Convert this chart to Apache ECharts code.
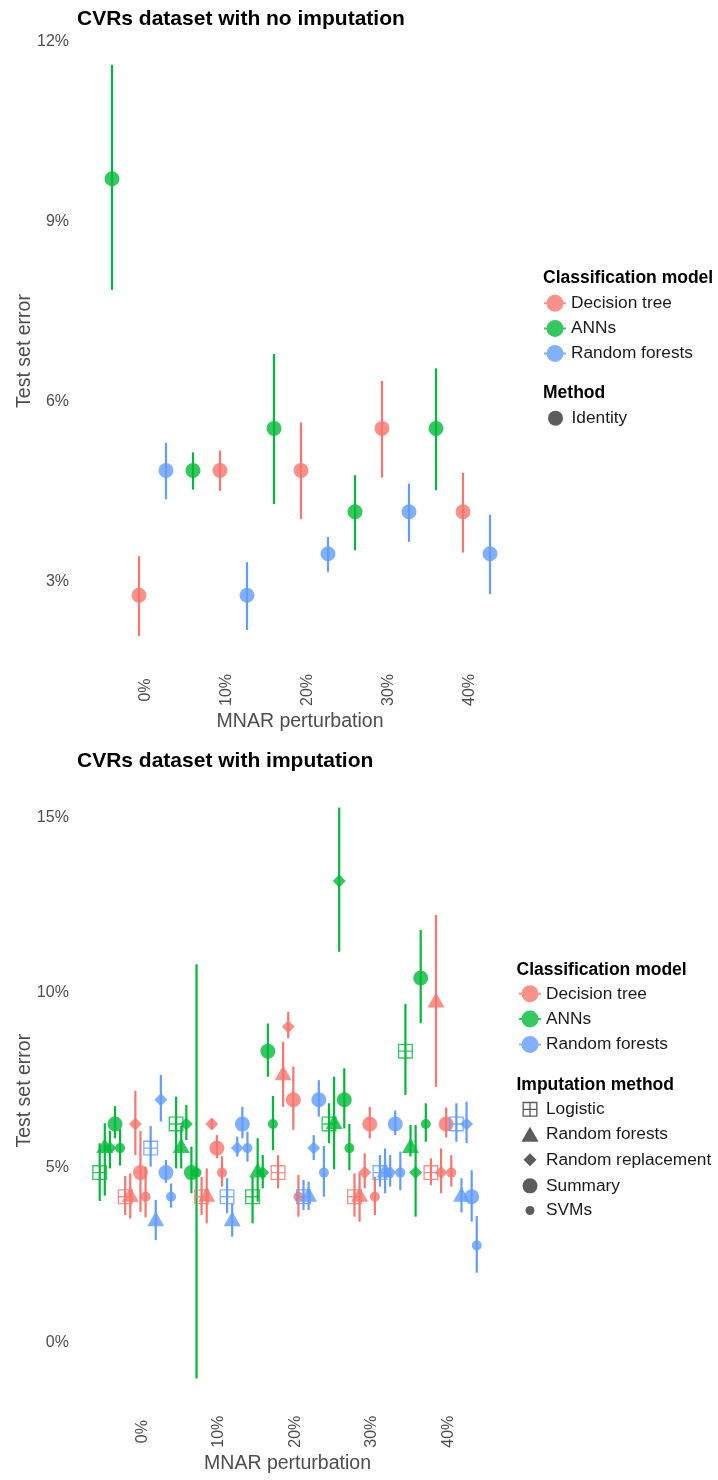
<!DOCTYPE html>
<html>
<head>
<meta charset="utf-8">
<script src="https://cdn.jsdelivr.net/npm/echarts@6/dist/echarts.min.js"></script>
<style>
  html, body { margin: 0; padding: 0; background: #ffffff; }
  #chart { width: 718px; height: 1480px; }
</style>
</head>
<body>
<div id="chart"></div>
<script>
// ---- data -------------------------------------------------------------
// MNAR perturbation levels (%) on the x axis
const perturbationLevels = [0, 10, 20, 30, 40];
// classification models in legend order, and the order they sit side by side
const modelNames = ['Decision tree', 'ANNs', 'Random forests'];
const dodgeOrder = ['ANNs', 'Decision tree', 'Random forests'];
// imputation methods, also the row order of the imputed tables below
const imputationMethods = ['Logistic', 'Random forests', 'Random replacement', 'Summary', 'SVMs'];
// tick labels of the two error axes (%)
const plainErrorTicks = [3, 6, 9, 12];
const imputedErrorTicks = [0, 5, 10, 15];

// Test set error (%) with no imputation: estimate and interval per perturbation level
const plainTreeMean = [2.78, 4.86, 4.86, 5.56, 4.17];
const plainTreeLow  = [2.10, 4.52, 4.05, 4.74, 3.49];
const plainTreeHigh = [3.43, 5.19, 5.66, 6.35, 4.82];
const plainAnnMean = [9.72, 4.86, 5.56, 4.17, 5.56];
const plainAnnLow  = [7.87, 4.54, 4.30, 3.53, 4.53];
const plainAnnHigh = [11.62, 5.16, 6.80, 4.78, 6.56];
const plainForestMean = [4.86, 2.78, 3.47, 4.17, 3.47];
const plainForestLow  = [4.38, 2.20, 3.17, 3.67, 2.80];
const plainForestHigh = [5.32, 3.33, 3.75, 4.64, 4.12];

// Test set error (%) with imputation: rows = imputation method, columns = perturbation level
const imputedTreeMean = [
  [4.17, 4.17, 4.86, 4.17, 4.86],
  [4.17, 4.17, 7.64, 4.17, 9.72],
  [6.25, 6.25, 9.03, 4.86, 4.86],
  [4.86, 5.56, 6.94, 6.25, 6.25],
  [4.17, 4.86, 4.17, 4.17, 4.86]
];
const imputedTreeLow = [
  [3.65, 3.65, 4.41, 3.60, 4.50],
  [3.55, 3.41, 6.74, 3.46, 7.31],
  [5.36, 6.10, 8.70, 4.41, 4.27],
  [3.74, 5.27, 6.08, 5.84, 5.87],
  [3.58, 4.46, 3.60, 3.65, 4.46]
];
const imputedTreeHigh = [
  [4.76, 4.74, 5.36, 4.84, 5.27],
  [4.84, 4.98, 8.60, 4.84, 12.22],
  [7.20, 6.40, 9.46, 5.41, 5.55],
  [6.05, 5.93, 7.89, 6.74, 6.72],
  [5.03, 5.33, 4.79, 4.74, 5.36]
];
const imputedAnnMean = [
  [4.86, 6.25, 4.17, 6.25, 8.33],
  [5.56, 5.56, 4.86, 6.25, 5.56],
  [5.56, 6.25, 4.86, 13.19, 4.86],
  [6.25, 4.86, 8.33, 6.94, 10.42],
  [5.56, 4.86, 6.25, 5.56, 6.25]
];
const imputedAnnLow = [
  [4.05, 4.98, 3.41, 5.70, 7.08],
  [4.20, 4.98, 4.03, 4.96, 5.32],
  [4.98, 5.79, 4.41, 11.17, 3.60],
  [5.84, 4.27, 7.60, 6.12, 9.13],
  [5.06, -1.02, 5.50, 4.93, 5.74]
];
const imputedAnnHigh = [
  [5.70, 7.03, 4.74, 6.84, 9.68],
  [6.27, 6.20, 5.84, 7.60, 6.22],
  [6.05, 6.79, 5.36, 15.29, 6.22],
  [6.76, 5.60, 9.12, 7.84, 11.79],
  [6.11, 10.81, 7.05, 6.25, 6.84]
];
const imputedForestMean = [
  [5.56, 4.17, 4.17, 4.86, 6.25],
  [3.47, 3.47, 4.17, 4.86, 4.17],
  [6.94, 5.56, 5.56, 4.86, 6.25],
  [4.86, 6.25, 6.94, 6.25, 4.17],
  [4.17, 5.56, 4.86, 4.86, 2.78]
];
const imputedForestLow = [
  [5.03, 3.70, 3.79, 4.46, 5.74],
  [2.93, 3.03, 3.79, 4.27, 3.72],
  [6.32, 5.32, 5.22, 4.46, 5.70],
  [4.57, 5.84, 6.46, 5.93, 3.46],
  [3.86, 5.17, 4.17, 4.36, 2.00]
];
const imputedForestHigh = [
  [6.19, 4.70, 4.65, 5.36, 6.84],
  [4.08, 3.98, 4.60, 5.55, 4.70],
  [7.65, 5.89, 5.93, 5.36, 6.89],
  [5.22, 6.74, 7.50, 6.63, 4.93],
  [4.55, 6.03, 5.62, 5.46, 3.62]
];

// ---- styling ----------------------------------------------------------
const FONT = '"Liberation Sans", Arial, Helvetica, sans-serif';
const AXIS_INK = '#4d4d4d';
const TEXT_INK = '#1a1a1a';
const modelColors = {
  'Decision tree': '#F8766D',
  'ANNs': '#00BA38',
  'Random forests': '#619CFF'
};
const POINT_OPACITY = 0.8;
const SHAPE_INK = '#333333';

// open square with a cross (drawn as a filled outline with four holes)
const SQUARE_CROSS = 'path://M0,0H20V20H0Z M1.8,1.8V9.1H9.1V1.8Z M10.9,1.8V9.1H18.2V1.8Z M1.8,10.9V18.2H9.1V10.9Z M10.9,10.9V18.2H18.2V10.9Z';
// point with a horizontal range line, used as the colour key
const POINT_RANGE_KEY = 'path://M0,7.5H22V9.5H0Z M2.5,8.5A8.5,8.5 0 1,1 19.5,8.5A8.5,8.5 0 1,1 2.5,8.5Z';
const TRIANGLE_KEY = 'path://M9,0L18,15.6L0,15.6Z';
const DIAMOND_KEY = 'path://M6.5,0L13,6.5L6.5,13L0,6.5Z';

const methodMarks = {
  'Logistic':           { symbol: SQUARE_CROSS, size: [15, 15], offset: [0, 0] },
  'Random forests':     { symbol: 'triangle', size: [17, 15], offset: [0, -2.5] },
  'Random replacement': { symbol: 'diamond', size: [13, 13], offset: [0, 0] },
  'Summary':            { symbol: 'circle', size: 15, offset: [0, 0] },
  'SVMs':               { symbol: 'circle', size: 10, offset: [0, 0] }
};
// key icons: drawn width and height inside a 22px wide key box
const methodKeys = {
  'Logistic':           { icon: SQUARE_CROSS, width: 15, height: 15 },
  'Random forests':     { icon: TRIANGLE_KEY, width: 17.3, height: 15 },
  'Random replacement': { icon: DIAMOND_KEY, width: 13, height: 13 },
  'Summary':            { icon: 'circle', width: 15, height: 15 },
  'SVMs':               { icon: 'circle', width: 9, height: 9 }
};
const KEY_BOX = 22;

// ---- series -----------------------------------------------------------
const plainStats = {
  'Decision tree': [plainTreeMean, plainTreeLow, plainTreeHigh],
  'ANNs': [plainAnnMean, plainAnnLow, plainAnnHigh],
  'Random forests': [plainForestMean, plainForestLow, plainForestHigh]
};
const imputedStats = {
  'Decision tree': [imputedTreeMean, imputedTreeLow, imputedTreeHigh],
  'ANNs': [imputedAnnMean, imputedAnnLow, imputedAnnHigh],
  'Random forests': [imputedForestMean, imputedForestLow, imputedForestHigh]
};

function rangeSeries(panel, color, rows) {
  return {
    type: 'custom',
    xAxisIndex: panel * 2,
    yAxisIndex: panel,
    silent: true,
    data: rows,
    encode: { x: 0, y: [1, 2] },
    renderItem: function (params, api) {
      const a = api.coord([api.value(0), api.value(1)]);
      const b = api.coord([api.value(0), api.value(2)]);
      return {
        type: 'line',
        shape: { x1: a[0], y1: a[1], x2: b[0], y2: b[1] },
        style: { stroke: color, lineWidth: 2.2 }
      };
    }
  };
}

const rangeLayer = [];
const pointLayer = [];

// panel 1: one slot per model inside each perturbation level
modelNames.forEach(function (model) {
  const stats = plainStats[model];
  const slot = dodgeOrder.indexOf(model);
  const perLevel = dodgeOrder.length;
  const ranges = [];
  const points = [];
  perturbationLevels.forEach(function (_, li) {
    const x = li * perLevel + slot;
    ranges.push([x, stats[1][li], stats[2][li]]);
    points.push([x, stats[0][li]]);
  });
  rangeLayer.push(rangeSeries(0, modelColors[model], ranges));
  pointLayer.push({
    type: 'scatter', name: model, xAxisIndex: 0, yAxisIndex: 0, silent: true,
    symbol: 'circle', symbolSize: 15,
    itemStyle: { color: modelColors[model], opacity: POINT_OPACITY },
    data: points
  });
});

// panel 2: one slot per model x imputation method inside each level
modelNames.forEach(function (model) {
  const stats = imputedStats[model];
  const slot = dodgeOrder.indexOf(model);
  const perModel = imputationMethods.length;
  const perLevel = dodgeOrder.length * perModel;
  const ranges = [];
  const points = [];
  imputationMethods.forEach(function (method, mi) {
    const mark = methodMarks[method];
    perturbationLevels.forEach(function (_, li) {
      const x = li * perLevel + slot * perModel + mi;
      ranges.push([x, stats[1][mi][li], stats[2][mi][li]]);
      points.push({
        value: [x, stats[0][mi][li]],
        symbol: mark.symbol,
        symbolSize: mark.size,
        symbolOffset: mark.offset
      });
    });
  });
  rangeLayer.push(rangeSeries(1, modelColors[model], ranges));
  pointLayer.push({
    type: 'scatter', name: model, xAxisIndex: 2, yAxisIndex: 1, silent: true,
    itemStyle: { color: modelColors[model], opacity: POINT_OPACITY },
    data: points
  });
});

// empty series that carry the shape keys
const keySeries = [{
  type: 'scatter', name: 'Identity', xAxisIndex: 0, yAxisIndex: 0, data: [],
  itemStyle: { color: SHAPE_INK, opacity: POINT_OPACITY }
}];
imputationMethods.forEach(function (method) {
  keySeries.push({
    type: 'scatter', name: method + ' imputation', xAxisIndex: 2, yAxisIndex: 1, data: [],
    itemStyle: { color: SHAPE_INK, opacity: POINT_OPACITY }
  });
});

// ---- axes -------------------------------------------------------------
const tickText = { color: AXIS_INK, fontSize: 16, fontFamily: FONT };
const nameText = { color: AXIS_INK, fontSize: 19.5, fontFamily: FONT };
const hiddenParts = {
  axisLine: { show: false }, axisTick: { show: false }, splitLine: { show: false }
};

function slotAxis(grid, min, max) {
  return Object.assign({
    type: 'value', gridIndex: grid, position: 'top', min: min, max: max, show: false
  }, hiddenParts);
}
function levelAxis(grid, min, max, margin, nameGap) {
  return Object.assign({
    type: 'value', gridIndex: grid, position: 'bottom', min: min, max: max,
    axisLabel: Object.assign({
      customValues: perturbationLevels,
      formatter: function (v) { return v + '%'; },
      rotate: 90, align: 'center', verticalAlign: 'middle', margin: margin
    }, tickText),
    name: 'MNAR perturbation', nameLocation: 'middle', nameGap: nameGap,
    nameTextStyle: nameText
  }, hiddenParts);
}
function errorAxis(grid, min, max, ticks, margin, nameGap) {
  return Object.assign({
    type: 'value', gridIndex: grid, min: min, max: max,
    axisLabel: Object.assign({
      customValues: ticks,
      formatter: function (v) { return v + '%'; },
      margin: margin
    }, tickText),
    name: 'Test set error', nameLocation: 'middle', nameRotate: 90, nameGap: nameGap,
    nameMoveOverlap: false,
    nameTextStyle: nameText
  }, hiddenParts);
}

// ---- legends ----------------------------------------------------------
const legendText = { color: TEXT_INK, fontSize: 17.3, fontFamily: FONT };
const headingText = { color: '#000000', fontSize: 17.5, fontWeight: 'bold', fontFamily: FONT };
const titleText = { color: '#000000', fontSize: 21, fontWeight: 'bold', fontFamily: FONT };

function colourLegend(left, top, gap) {
  return {
    orient: 'vertical', left: left, top: top, padding: 0,
    itemWidth: KEY_BOX, itemHeight: 17, itemGap: gap, selectedMode: false,
    textStyle: legendText,
    data: modelNames.map(function (m) { return { name: m, icon: POINT_RANGE_KEY }; })
  };
}
// a one-entry key; the box is placed by the icon's drawn edge, so shift by the spare width
function shapeLegend(seriesName, label, icon, width, height, boxLeft, centreY) {
  return {
    orient: 'vertical', left: boxLeft + (KEY_BOX - width) / 2, top: centreY - 8.65, padding: 0,
    itemWidth: KEY_BOX, itemHeight: height, selectedMode: false,
    textStyle: legendText,
    formatter: function () { return label; },
    data: [{ name: seriesName, icon: icon }]
  };
}

const methodKeyCentres = [1109.5, 1134.3, 1160, 1186, 1210.7];
const legends = [
  colourLegend(544, 294.8, 8.15),
  shapeLegend('Identity', 'Identity', 'circle', 15, 15, 544.5, 418.3),
  colourLegend(519, 985.3, 8.3)
];
imputationMethods.forEach(function (method, mi) {
  const key = methodKeys[method];
  legends.push(shapeLegend(method + ' imputation', method, key.icon, key.width, key.height, 519, methodKeyCentres[mi]));
});

// ---- chart ------------------------------------------------------------
const chart = echarts.init(document.getElementById('chart'), null, { renderer: 'canvas' });
chart.setOption({
  backgroundColor: '#ffffff',
  animation: false,
  textStyle: { fontFamily: FONT },
  title: [
    { text: 'CVRs dataset with no imputation', left: 77, top: 9, padding: 0, textStyle: titleText },
    { text: 'CVRs dataset with imputation', left: 77, top: 751, padding: 0, textStyle: titleText },
    { text: 'Classification model', left: 543, top: 269, padding: 0, textStyle: headingText },
    { text: 'Method', left: 543, top: 384.3, padding: 0, textStyle: headingText },
    { text: 'Classification model', left: 516.5, top: 961, padding: 0, textStyle: headingText },
    { text: 'Imputation method', left: 516.5, top: 1076, padding: 0, textStyle: headingText }
  ],
  grid: [
    { left: 85, top: 30, width: 430.1, height: 642, outerBoundsMode: 'none' },
    { left: 81.87, top: 775.7, width: 411.3, height: 630, outerBoundsMode: 'none' }
  ],
  xAxis: [
    slotAxis(0, -1, 14.93),
    levelAxis(0, -7.432, 45.67, 18, 40),
    slotAxis(1, -3.5, 77.22),
    levelAxis(1, -7.886, 45.88, 26, 48)
  ],
  yAxis: [
    errorAxis(0, 1.5, 12.2, plainErrorTicks, 16, 50),
    errorAxis(1, -1.8, 16.2, imputedErrorTicks, 13, 47)
  ],
  legend: legends,
  series: rangeLayer.concat(pointLayer, keySeries)
});
</script>
</body>
</html>
